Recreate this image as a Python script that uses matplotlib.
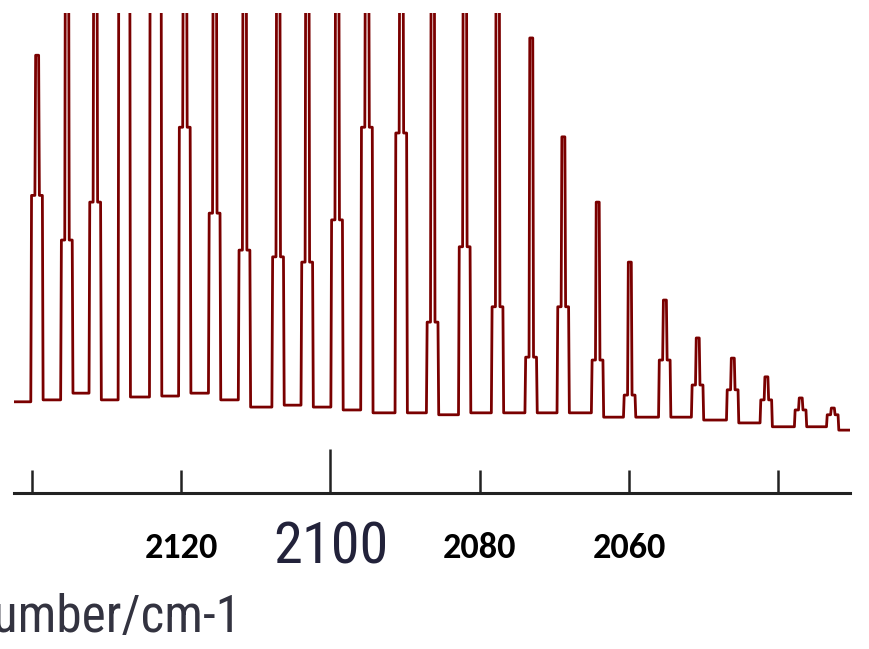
import matplotlib
matplotlib.use("Agg")
import matplotlib.pyplot as plt

# CO P-branch lines (wavenumber / cm-1)
peak_wn = [2139.3, 2135.3, 2131.5, 2127.6, 2123.4, 2119.5, 2115.5, 2111.5, 2107.0,
           2103.1, 2099.1, 2095.1, 2090.5, 2086.3, 2082.0, 2077.6, 2073.1, 2068.8,
           2064.2, 2059.9, 2055.2, 2050.8, 2046.1, 2041.6, 2037.0, 2032.7]
# peak tops (values above 1 run off the top of the plot)
peak_top = [0.912, 1.3, 1.3, 1.3, 1.3, 1.3, 1.3, 1.3, 1.3,
            1.3, 1.3, 1.3, 1.3, 1.3, 1.3, 1.3, 0.948, 0.742,
            0.606, 0.481, 0.402, 0.323, 0.281, 0.242, 0.198, 0.177]
# level where each peak widens out
peak_shoulder = [0.62, 0.527, 0.606, 1.3, 1.3, 0.762, 0.583, 0.506, 0.492,
                 0.481, 0.569, 0.762, 0.75, 0.356, 0.513, 0.388, 0.283, 0.388,
                 0.277, 0.204, 0.277, 0.225, 0.215, 0.194, 0.173, 0.163]
# baseline between neighbouring peaks
valleys = [0.194, 0.208, 0.194, 0.200, 0.202, 0.208, 0.194, 0.179, 0.183, 0.179,
           0.173, 0.167, 0.167, 0.163, 0.167, 0.167, 0.167, 0.167, 0.158, 0.158,
           0.158, 0.152, 0.146, 0.138, 0.138]
start_wn, start_val = 2142.4, 0.19
end_wn, end_val = 2030.4, 0.131

tick_pos = [2140, 2120, 2100, 2080, 2060, 2040]
tick_lab = ["", "2120", "2100", "2080", "2060", ""]

# build the trace
xs, ys = [start_wn], [start_val]
for i, c in enumerate(peak_wn):
    vl = start_val if i == 0 else valleys[i - 1]
    vr = end_val if i == len(peak_wn) - 1 else valleys[i]
    sh, top = peak_shoulder[i], peak_top[i]
    xs += [c + 0.85, c + 0.75, c + 0.3, c + 0.2, c - 0.2, c - 0.3, c - 0.7, c - 0.8]
    ys += [vl, sh, sh, top, top, sh, sh, vr]
xs.append(end_wn)
ys.append(end_val)

fig = plt.figure(figsize=(8.7, 6.49), dpi=100)
ax = fig.add_axes([14 / 870, 1 - 493 / 649, 836 / 870, 480 / 649])
ax.plot(xs, ys, color="#7a0000", lw=2.0)

ax.set_xlim(start_wn, end_wn)
ax.set_ylim(0, 1)
for s in ["top", "left", "right"]:
    ax.spines[s].set_visible(False)
ax.spines["bottom"].set_linewidth(2.2)
ax.spines["bottom"].set_color("#222222")
ax.set_yticks([])

ax.set_xticks(tick_pos)
ax.set_xticklabels(tick_lab)
ax.tick_params(axis="x", direction="in", length=16.5, width=1.8, color="#222222", pad=39.5)
ax.xaxis.get_major_ticks()[2].tick1line.set_markersize(32)

for t in ax.get_xticklabels():
    t.set_va("center")
    if t.get_text() == "2100":
        t.set_fontfamily("Roboto Condensed")
        t.set_fontsize(42)
        t.set_color("#22223a")
    else:
        t.set_fontfamily("Carlito")
        t.set_fontweight("bold")
        t.set_fontsize(26)
        t.set_color("black")

ax.set_xlabel("Wavenumber/cm-1", fontsize=37, family="Roboto Condensed", color="#333340",
              ha="right", va="baseline")
ax.xaxis.set_label_coords((241 - 14) / 836, -(632 - 493) / 480)

fig.savefig("out.png", dpi=100)
